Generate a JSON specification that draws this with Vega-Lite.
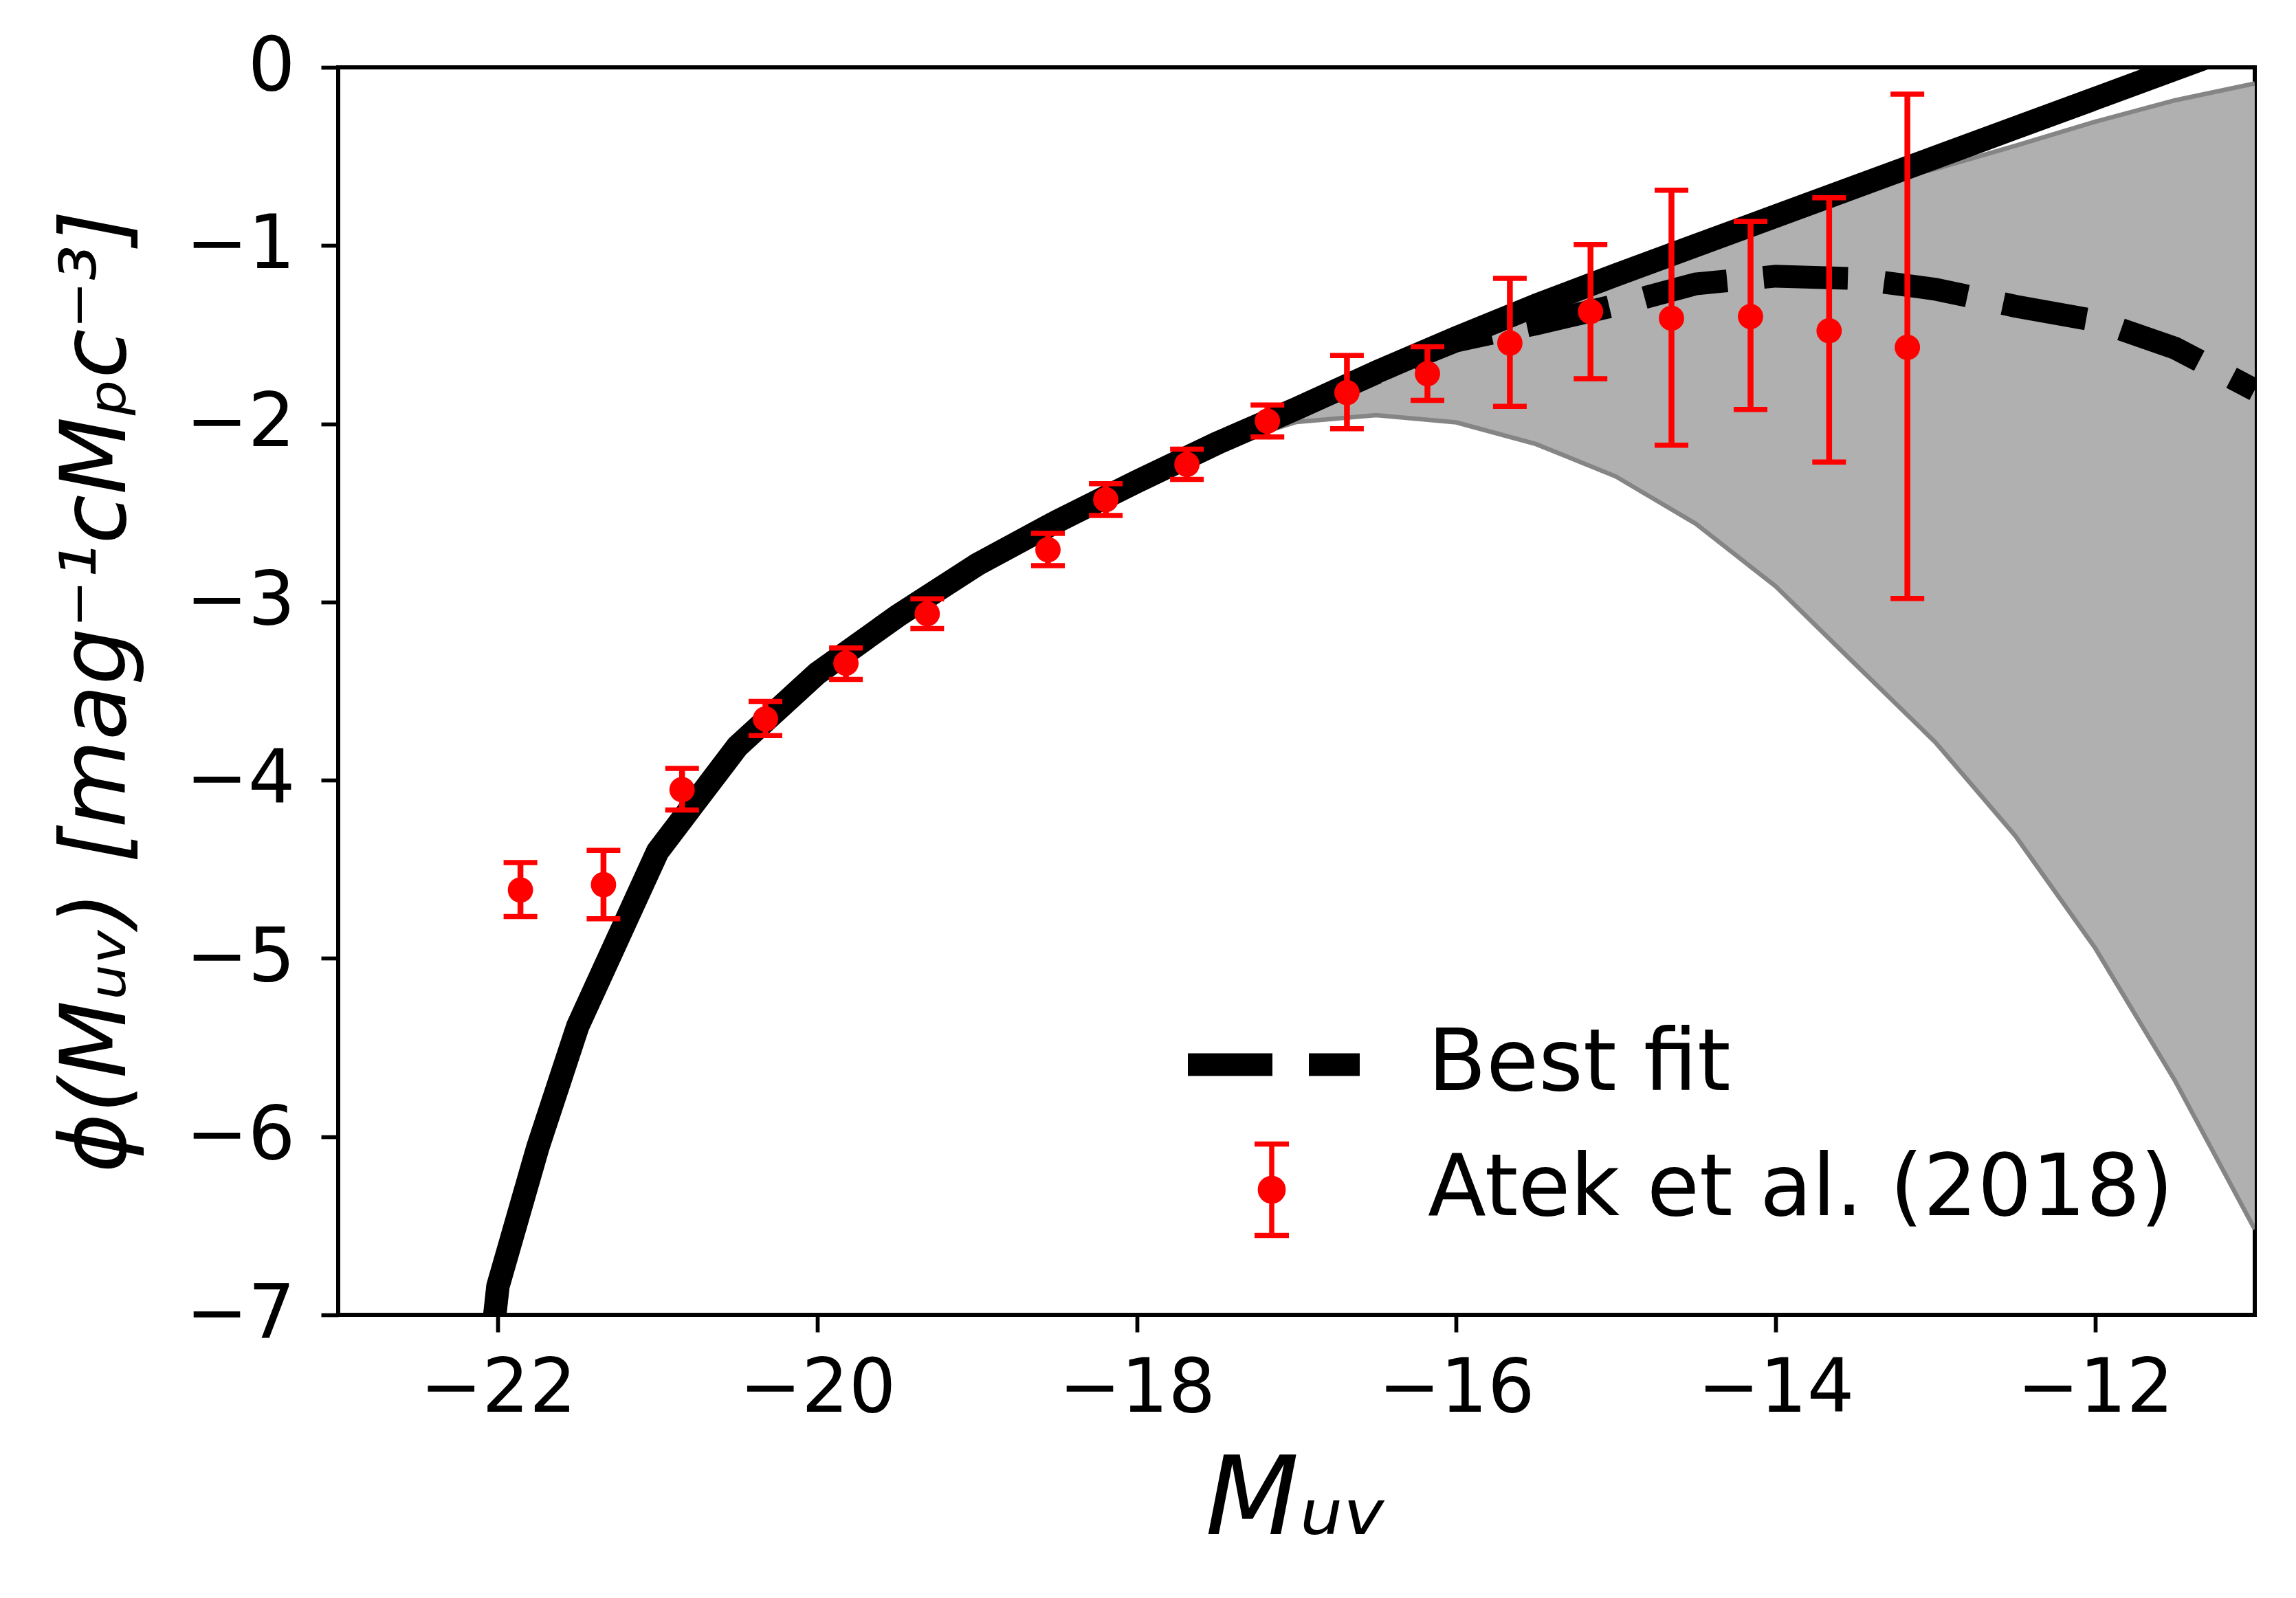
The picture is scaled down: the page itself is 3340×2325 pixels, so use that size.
{
  "$schema": "https://vega.github.io/schema/vega-lite/v6.json",
  "width": 2788,
  "height": 1815,
  "autosize": {"type": "none"},
  "padding": {"left": 492, "top": 98, "right": 60, "bottom": 412},
  "background": "white",
  "config": {
    "view": {"stroke": "black", "strokeWidth": 6, "fill": "white"},
    "axis": {
      "domain": false, "grid": false, "ticks": true,
      "tickColor": "black", "tickWidth": 5.7, "tickSize": 25,
      "labelColor": "black", "labelFont": "DejaVu Sans", "labelFontSize": 108,
      "labelFlush": false, "labelOverlap": false, "labelLimit": 0,
      "titleColor": "black", "titleFont": "DejaVu Sans", "titleFontStyle": "italic", "titleFontWeight": "normal",
      "titleBaseline": "alphabetic", "titleLimit": 0
    },
    "axisX": {"labelPadding": 30, "titleFontSize": 158, "titleY": 318},
    "axisY": {"labelPadding": 38, "titleFontSize": 131, "titleX": -311, "titleAngle": 270}
  },
  "datasets": {
    "curves": [
      {"M": -22.05, "solid": -7.25, "fit": -7.25, "lo": -7.3, "hi": -7.25},
      {"M": -22.0, "solid": -6.84, "fit": -6.84, "lo": -6.87, "hi": -6.84},
      {"M": -21.75, "solid": -6.06, "fit": -6.06, "lo": -6.09, "hi": -6.06},
      {"M": -21.5, "solid": -5.38, "fit": -5.38, "lo": -5.41, "hi": -5.38},
      {"M": -21.0, "solid": -4.40, "fit": -4.40, "lo": -4.42, "hi": -4.40},
      {"M": -20.5, "solid": -3.81, "fit": -3.81, "lo": -3.83, "hi": -3.81},
      {"M": -20.0, "solid": -3.40, "fit": -3.40, "lo": -3.42, "hi": -3.40},
      {"M": -19.5, "solid": -3.08, "fit": -3.08, "lo": -3.10, "hi": -3.08},
      {"M": -19.0, "solid": -2.79, "fit": -2.79, "lo": -2.81, "hi": -2.79},
      {"M": -18.5, "solid": -2.548, "fit": -2.548, "lo": -2.565, "hi": -2.548},
      {"M": -18.0, "solid": -2.325, "fit": -2.325, "lo": -2.34, "hi": -2.325},
      {"M": -17.5, "solid": -2.11, "fit": -2.11, "lo": -2.13, "hi": -2.11},
      {"M": -17.0, "solid": -1.915, "fit": -1.915, "lo": -1.99, "hi": -1.915},
      {"M": -16.5, "solid": -1.71, "fit": -1.715, "lo": -1.952, "hi": -1.71},
      {"M": -16.0, "solid": -1.518, "fit": -1.535, "lo": -1.992, "hi": -1.518},
      {"M": -15.5, "solid": -1.335, "fit": -1.44, "lo": -2.114, "hi": -1.335},
      {"M": -15.0, "solid": -1.165, "fit": -1.335, "lo": -2.296, "hi": -1.165},
      {"M": -14.5, "solid": -1.0, "fit": -1.215, "lo": -2.561, "hi": -1.0},
      {"M": -14.0, "solid": -0.835, "fit": -1.172, "lo": -2.912, "hi": -0.835},
      {"M": -13.5, "solid": -0.67, "fit": -1.185, "lo": -3.35, "hi": -0.675},
      {"M": -13.0, "solid": -0.505, "fit": -1.245, "lo": -3.787, "hi": -0.57},
      {"M": -12.5, "solid": -0.34, "fit": -1.34, "lo": -4.311, "hi": -0.44},
      {"M": -12.0, "solid": -0.175, "fit": -1.42, "lo": -4.941, "hi": -0.305},
      {"M": -11.5, "solid": -0.01, "fit": -1.575, "lo": -5.685, "hi": -0.185},
      {"M": -11.0, "solid": 0.155, "fit": -1.81, "lo": -6.52, "hi": -0.09}
    ],
    "atek": [
      {"M": -21.859, "phi": -4.616, "lo": -4.765, "hi": -4.462},
      {"M": -21.339, "phi": -4.586, "lo": -4.778, "hi": -4.394},
      {"M": -20.847, "phi": -4.053, "lo": -4.167, "hi": -3.934},
      {"M": -20.325, "phi": -3.656, "lo": -3.75, "hi": -3.558},
      {"M": -19.821, "phi": -3.344, "lo": -3.434, "hi": -3.258},
      {"M": -19.312, "phi": -3.066, "lo": -3.149, "hi": -2.982},
      {"M": -18.556, "phi": -2.707, "lo": -2.796, "hi": -2.615},
      {"M": -18.194, "phi": -2.426, "lo": -2.515, "hi": -2.336},
      {"M": -17.686, "phi": -2.228, "lo": -2.312, "hi": -2.142},
      {"M": -17.182, "phi": -1.985, "lo": -2.074, "hi": -1.895},
      {"M": -16.684, "phi": -1.825, "lo": -2.028, "hi": -1.617},
      {"M": -16.18, "phi": -1.719, "lo": -1.869, "hi": -1.568},
      {"M": -15.664, "phi": -1.547, "lo": -1.902, "hi": -1.184},
      {"M": -15.159, "phi": -1.37, "lo": -1.747, "hi": -0.994},
      {"M": -14.652, "phi": -1.408, "lo": -2.12, "hi": -0.689},
      {"M": -14.157, "phi": -1.398, "lo": -1.92, "hi": -0.865},
      {"M": -13.665, "phi": -1.478, "lo": -2.215, "hi": -0.732},
      {"M": -13.175, "phi": -1.571, "lo": -2.98, "hi": -0.15}
    ]
  },
  "layer": [
    {
      "data": {"name": "curves"},
      "mark": {"type": "area", "color": "#b0b0b0", "opacity": 1, "clip": true},
      "encoding": {
        "x": {"field": "M", "type": "quantitative",
              "scale": {"domain": [-23, -11], "nice": false, "zero": false},
              "axis": {"title": "Mᵤᵥ", "values": [-22, -20, -18, -16, -14, -12], "format": "d"}},
        "y": {"field": "lo", "type": "quantitative",
              "scale": {"domain": [-7, 0], "nice": false, "zero": false},
              "axis": {"title": "ϕ(Mᵤᵥ) [mag⁻¹cMₚc⁻³]", "values": [-7, -6, -5, -4, -3, -2, -1, 0], "format": "d"}},
        "y2": {"field": "hi"}
      }
    },
    {
      "data": {"name": "curves"},
      "mark": {"type": "line", "color": "#858585", "strokeWidth": 6.5, "clip": true},
      "encoding": {
        "x": {"field": "M", "type": "quantitative"},
        "y": {"field": "lo", "type": "quantitative"}
      }
    },
    {
      "data": {"name": "curves"},
      "mark": {"type": "line", "color": "#858585", "strokeWidth": 6.5, "clip": true},
      "encoding": {
        "x": {"field": "M", "type": "quantitative"},
        "y": {"field": "hi", "type": "quantitative"}
      }
    },
    {
      "data": {"name": "curves"},
      "mark": {"type": "line", "color": "black", "strokeWidth": 33, "strokeCap": "butt", "clip": true},
      "encoding": {
        "x": {"field": "M", "type": "quantitative"},
        "y": {"field": "fit", "type": "quantitative"},
        "strokeDash": {
          "datum": "Best fit", "type": "nominal",
          "scale": {"domain": ["Best fit"], "range": [[123, 53]]},
          "legend": {
            "orient": "none", "legendX": 1219.5, "legendY": 1309.5, "title": null, "padding": 0,
            "symbolType": "stroke", "symbolSize": 62500, "symbolStrokeWidth": 33, "symbolStrokeColor": "black",
            "symbolDash": [123, 53],
            "labelFont": "DejaVu Sans", "labelFontSize": 124, "labelColor": "black", "labelOffset": 82.5, "labelLimit": 0,
            "encode": {"symbols": {"update": {"stroke": {"value": "black"}, "strokeWidth": {"value": 33}, "strokeCap": {"value": "butt"}}}}
          }
        }
      }
    },
    {
      "data": {"name": "curves"},
      "mark": {"type": "line", "color": "black", "strokeWidth": 34, "strokeJoin": "round", "strokeCap": "square", "clip": true},
      "encoding": {
        "x": {"field": "M", "type": "quantitative"},
        "y": {"field": "solid", "type": "quantitative"}
      }
    },
    {
      "data": {"name": "atek"},
      "mark": {"type": "rule", "color": "red", "strokeWidth": 8.5},
      "encoding": {
        "x": {"field": "M", "type": "quantitative"},
        "y": {"field": "lo", "type": "quantitative"},
        "y2": {"field": "hi"}
      }
    },
    {
      "data": {"name": "atek"},
      "mark": {"type": "tick", "color": "red", "orient": "horizontal", "size": 49, "thickness": 7.5, "opacity": 1},
      "encoding": {
        "x": {"field": "M", "type": "quantitative"},
        "y": {"field": "lo", "type": "quantitative"}
      }
    },
    {
      "data": {"name": "atek"},
      "mark": {"type": "tick", "color": "red", "orient": "horizontal", "size": 49, "thickness": 7.5, "opacity": 1},
      "encoding": {
        "x": {"field": "M", "type": "quantitative"},
        "y": {"field": "hi", "type": "quantitative"}
      }
    },
    {
      "data": {"name": "atek"},
      "mark": {"type": "point", "shape": "circle", "filled": true, "size": 1360, "opacity": 1},
      "encoding": {
        "x": {"field": "M", "type": "quantitative"},
        "y": {"field": "phi", "type": "quantitative"},
        "color": {
          "datum": "Atek et al. (2018)", "type": "nominal",
          "scale": {"domain": ["Atek et al. (2018)"], "range": ["red"]},
          "legend": {
            "orient": "none", "legendX": 1287.5, "legendY": 1562.5, "title": null, "padding": 0,
            "symbolType": "M0,-1L0,1M-0.376,-1L0.376,-1M-0.376,1L0.376,1M0.25,0A0.25,0.25,0,1,1,-0.25,0A0.25,0.25,0,1,1,0.25,0Z",
            "symbolSize": 17689, "symbolStrokeWidth": 7.5, "symbolStrokeColor": "red", "symbolFillColor": "red", "symbolOpacity": 1,
            "labelFont": "DejaVu Sans", "labelFontSize": 124, "labelColor": "black", "labelOffset": 156.5, "labelLimit": 0,
            "encode": {"symbols": {"update": {"stroke": {"value": "red"}, "fill": {"value": "red"}, "strokeWidth": {"value": 7.5}, "opacity": {"value": 1}}}}
          }
        }
      }
    }
  ]
}
